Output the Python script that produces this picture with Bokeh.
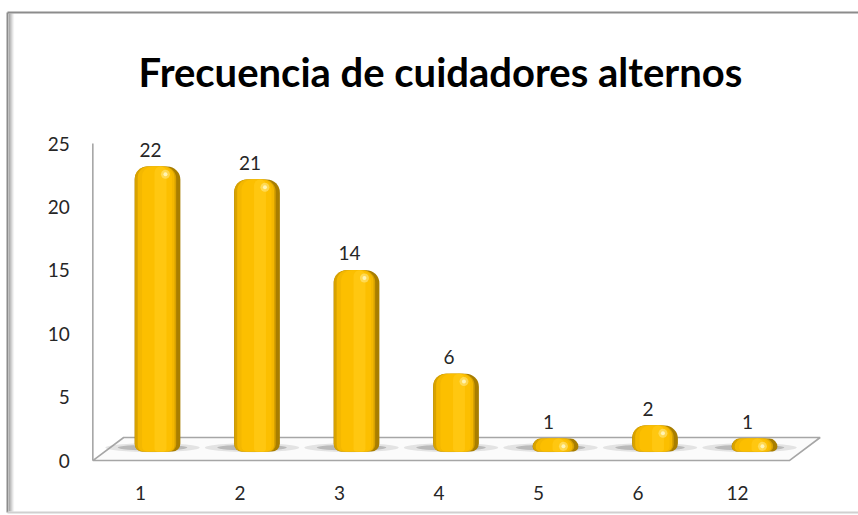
from bokeh.plotting import figure
from bokeh.models import Range1d
from bokeh.core.properties import value
from bokeh.embed import file_html
from bokeh.resources import INLINE

# ---- data ----
categories = ["1", "2", "3", "4", "5", "6", "12"]
frequencies = [22, 21, 14, 6, 1, 2, 1]
y_ticks = [0, 5, 10, 15, 20, 25]
y_tick_labels = ["0", "5", "10", "15", "20", "25"]
title_text = "Frecuencia de cuidadores alternos"

# ---- layout constants ----
W, H = 858, 515
X0, DX = 157.0, 99.5      # screen x of first category centre, px per category
Y0, DY = 460.0, 12.68     # screen y of value 0 on the axis, px per unit
BAR_BASE, BAR_DY = 451.0, 12.95   # bar base (middle of floor depth) and px per unit (perspective)
FRONT_SHIFT = -0.15       # perspective shift of floor front edge (categories)
BACK_SHIFT = 0.16         # perspective shift of floor back edge
FONT = "Lato"

idx = list(range(len(categories)))

p = figure(width=W, height=H, output_backend="svg", toolbar_location=None,
           x_range=Range1d(-X0 / DX, (W - X0) / DX),
           y_range=Range1d(-(H - Y0) / DY, Y0 / DY),
           x_axis_location=None, y_axis_location=None,
           min_border=0, background_fill_color="white", border_fill_color="white")
p.grid.visible = False
p.outline_line_color = None
p.extra_y_ranges = {"bars": Range1d(-(H - BAR_BASE) / BAR_DY, BAR_BASE / BAR_DY),
                    "px": Range1d(H, 0)}
p.extra_x_ranges = {"px": Range1d(0, W)}

# ---- chart frame (chrome) ----
for k, c in enumerate(["#f4f4f4", "#e6e6e6", "#d4d4d4", "#c2c2c2", "#adadad"]):
    p.segment(x0=13 - k, y0=13, x1=13 - k, y1=511, x_range_name="px", y_range_name="px",
              line_color=c, line_width=1.2)
p.segment(x0=7, y0=12, x1=W, y1=12, x_range_name="px", y_range_name="px",
          line_color="#8c8c8c", line_width=2)
p.segment(x0=7, y0=12, x1=7, y1=512, x_range_name="px", y_range_name="px",
          line_color="#8c8c8c", line_width=2)
p.segment(x0=7, y0=512, x1=W, y1=512, x_range_name="px", y_range_name="px",
          line_color="#d0d0d0", line_width=2)

# ---- title ----
p.text(x=[440], y=[71], text=[title_text], x_range_name="px", y_range_name="px",
       text_font=value(FONT), text_font_style="bold", text_font_size="40px",
       text_color="black", text_align="center", text_baseline="alphabetic")

# ---- floor ----
left, right = -0.5, len(categories) - 0.5
p.patch(x=[left + FRONT_SHIFT, right + FRONT_SHIFT, right + BACK_SHIFT, left + BACK_SHIFT],
        y=[-0.7, -0.7, 1.08, 1.08], y_range_name="bars",
        fill_color="#fbfbfb", line_color="#a6a6a6", line_width=1.6)

# ---- value axis line ----
p.segment(x0=left + FRONT_SHIFT, y0=0, x1=left + FRONT_SHIFT, y1=max(y_ticks),
          line_color="#a6a6a6", line_width=1.6)

# ---- y tick labels ----
p.text(x=[left + FRONT_SHIFT] * len(y_ticks), y=y_ticks, text=y_tick_labels,
       x_offset=-23, text_font=value(FONT), text_font_size="19px", text_color="#262626",
       text_align="right", text_baseline="middle")

# ---- x tick labels ----
p.text(x=idx, y=[0] * len(idx), text=categories, x_offset=-17, y_offset=32,
       text_font=value(FONT), text_font_size="19px", text_color="#262626",
       text_align="center", text_baseline="middle")

# ---- bar shadows on the floor ----
p.ellipse(x=[i - 0.05 for i in idx], y=[0.3] * len(idx), width=0.95, height=0.7, y_range_name="bars",
          fill_color="#9a9a9a", fill_alpha=0.25, line_color=None)
p.ellipse(x=[i - 0.05 for i in idx], y=[0.3] * len(idx), width=0.7, height=0.45, y_range_name="bars",
          fill_color="#6a6a6a", fill_alpha=0.35, line_color=None)

# ---- cylinder bars (layered for shading) ----
p.vbar(x=idx, top=frequencies, bottom=0, width=0.46, y_range_name="bars",
       fill_color="#a87e00", line_color=None, border_radius=(13, 13, 8, 8))
p.vbar(x=[i - 0.02 for i in idx], top=frequencies, bottom=0, width=0.415, y_range_name="bars",
       fill_color="#d8a200", line_color=None, border_radius=(12, 12, 7, 7))
p.vbar(x=[i - 0.014 for i in idx], top=frequencies, bottom=0, width=0.37, y_range_name="bars",
       fill_color="#f4b800", line_color=None, border_radius=(11, 11, 6, 6))
p.vbar(x=[i - 0.005 for i in idx], top=frequencies, bottom=0, width=0.3, y_range_name="bars",
       fill_color="#fcbf00", line_color=None, border_radius=(10, 10, 5, 5))
p.vbar(x=[i + 0.03 for i in idx], top=frequencies, bottom=0, width=0.12, y_range_name="bars",
       fill_color="#ffc710", line_color=None, border_radius=(6, 6, 3, 3))
p.scatter(x=[i + 0.08 for i in idx], y=[f - 0.6 for f in frequencies], y_range_name="bars",
          size=9, fill_color="#ffe680", fill_alpha=0.6, line_color=None)
p.scatter(x=[i + 0.08 for i in idx], y=[f - 0.6 for f in frequencies], y_range_name="bars",
          size=4, fill_color="#fff6c0", fill_alpha=0.9, line_color=None)

# ---- value labels ----
p.text(x=idx, y=frequencies, text=[str(f) for f in frequencies], y_range_name="bars",
       x_offset=-7, y_offset=-17, text_font=value(FONT), text_font_size="19px",
       text_color="#262626", text_align="center", text_baseline="middle")

open("out.html", "w").write(file_html(p, INLINE))
